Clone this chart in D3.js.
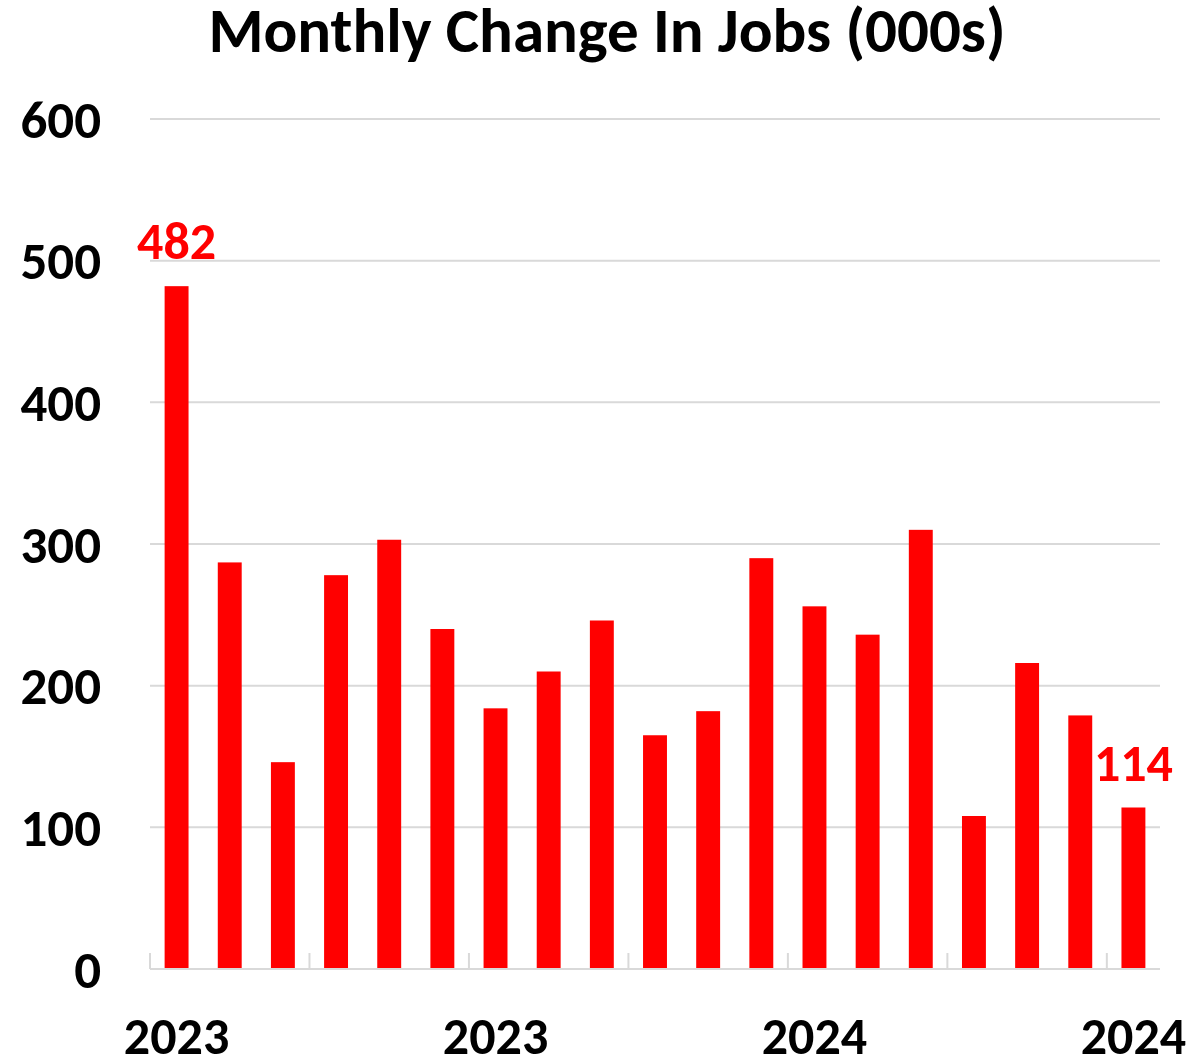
<!DOCTYPE html>
<html>
<head>
<meta charset="utf-8">
<script src="https://cdn.jsdelivr.net/npm/d3@7"></script>
<style>
  body { margin: 0; background: #fff; }
  text { font-family: Carlito, Calibri, Lato, "Open Sans", sans-serif; font-weight: bold; }
</style>
</head>
<body>
<svg id="chart" width="1194" height="1059"></svg>
<script>
// monthly payroll change, thousands
var months = ["Jan 2023","Feb 2023","Mar 2023","Apr 2023","May 2023","Jun 2023","Jul 2023","Aug 2023","Sep 2023",
              "Oct 2023","Nov 2023","Dec 2023","Jan 2024","Feb 2024","Mar 2024","Apr 2024","May 2024","Jun 2024","Jul 2024"];
var jobs = [482, 287, 146, 278, 303, 240, 184, 210, 246, 165, 182, 290, 256, 236, 310, 108, 216, 179, 114];
var yTicks = [0, 100, 200, 300, 400, 500, 600];
var yearLabels = ["2023", "2023", "2024", "2024"];
var labelled = [0, 18];   // bars with a value label

var width = 1194, height = 1059;
var margin = {top: 119, right: 34, bottom: 90, left: 150};

var svg = d3.select("#chart");

var x = d3.scaleBand()
    .domain(months)
    .range([margin.left, width - margin.right])
    .paddingInner(0.55)
    .paddingOuter(0.275);

var y = d3.scaleLinear()
    .domain([0, 600])
    .range([height - margin.bottom, margin.top]);

// gridlines
svg.append("g")
    .selectAll("line")
    .data(yTicks.filter(function(d) { return d > 0; }))
    .join("line")
    .attr("x1", margin.left)
    .attr("x2", width - margin.right)
    .attr("y1", function(d) { return y(d); })
    .attr("y2", function(d) { return y(d); })
    .attr("stroke", "#d9d9d9")
    .attr("stroke-width", 2);

// y labels
svg.append("g")
    .selectAll("text")
    .data(yTicks)
    .join("text")
    .attr("x", 101)
    .attr("y", function(d) { return y(d); })
    .attr("dy", "0.35em")
    .attr("text-anchor", "end")
    .attr("font-size", 53)
    .attr("fill", "#000")
    .text(function(d) { return d; });

// bars
svg.append("g")
    .selectAll("rect")
    .data(jobs)
    .join("rect")
    .attr("x", function(d, i) { return x(months[i]); })
    .attr("y", function(d) { return y(d); })
    .attr("width", x.bandwidth())
    .attr("height", function(d) { return y(0) - y(d); })
    .attr("fill", "#ff0000");

// baseline + tick marks every 3 months
var step = x.step();
svg.append("line")
    .attr("x1", margin.left)
    .attr("x2", width - margin.right)
    .attr("y1", y(0))
    .attr("y2", y(0))
    .attr("stroke", "#d9d9d9")
    .attr("stroke-width", 2);

svg.append("g")
    .selectAll("line")
    .data(d3.range(0, months.length, 3))
    .join("line")
    .attr("x1", function(i) { return x(months[i]) - step * 0.275; })
    .attr("x2", function(i) { return x(months[i]) - step * 0.275; })
    .attr("y1", y(0) - 16)
    .attr("y2", y(0))
    .attr("stroke", "#d9d9d9")
    .attr("stroke-width", 2);

// year labels every 6 months
svg.append("g")
    .selectAll("text")
    .data(yearLabels)
    .join("text")
    .attr("x", function(d, i) { return x(months[i * 6]) + x.bandwidth() / 2; })
    .attr("y", 1054)
    .attr("text-anchor", "middle")
    .attr("font-size", 52)
    .attr("fill", "#000")
    .text(function(d) { return d; });

// value labels
svg.append("g")
    .selectAll("text")
    .data(labelled)
    .join("text")
    .attr("x", function(i) { return x(months[i]) + x.bandwidth() / 2; })
    .attr("y", function(i) { return y(jobs[i]) - 27; })
    .attr("text-anchor", "middle")
    .attr("font-size", 52)
    .attr("fill", "#ff0000")
    .text(function(i) { return jobs[i]; });

// title
svg.append("text")
    .attr("x", 607)
    .attr("y", 52)
    .attr("text-anchor", "middle")
    .attr("font-size", 63)
    .attr("fill", "#000")
    .text("Monthly Change In Jobs (000s)");
</script>
</body>
</html>
